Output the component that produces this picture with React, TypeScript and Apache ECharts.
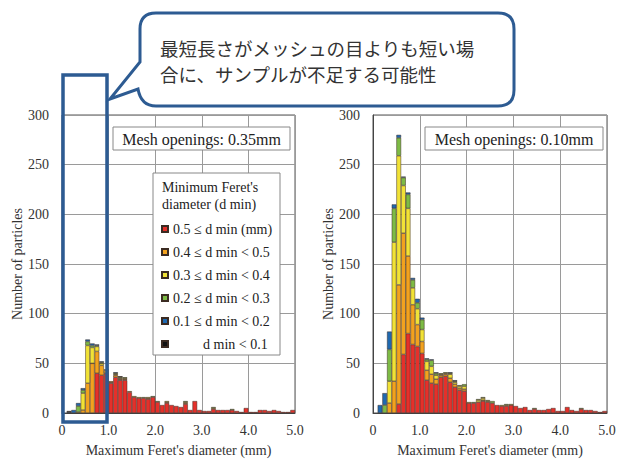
import React, { useEffect, useRef } from 'react';
import * as echarts from 'echarts';

const SERIF = '"Liberation Serif", "DejaVu Serif", serif';
const JP = '"Noto Sans CJK JP", sans-serif';

// bin centres of the 0.1 mm histogram bins (mm)
const binCenters = [
  '0.05', '0.15', '0.25', '0.35', '0.45', '0.55', '0.65', '0.75', '0.85', '0.95',
  '1.05', '1.15', '1.25', '1.35', '1.45', '1.55', '1.65', '1.75', '1.85', '1.95',
  '2.05', '2.15', '2.25', '2.35', '2.45', '2.55', '2.65', '2.75', '2.85', '2.95',
  '3.05', '3.15', '3.25', '3.35', '3.45', '3.55', '3.65', '3.75', '3.85', '3.95',
  '4.05', '4.15', '4.25', '4.35', '4.45', '4.55', '4.65', '4.75', '4.85', '4.95',
];

const classNames = [
  '0.5 ≤ d min (mm)',
  '0.4 ≤ d min < 0.5',
  '0.3 ≤ d min < 0.4',
  '0.2 ≤ d min < 0.3',
  '0.1 ≤ d min < 0.2',
  'd min < 0.1',
];
const classColors = ['#e5302a', '#f2a21e', '#f1e236', '#7dbb45', '#1f69b0', '#111111'];

const xTickLabels = ['0', '1.0', '2.0', '3.0', '4.0', '5.0'];

// Left chart: mesh openings 0.35 mm
const left05 = [0,0,0,0,0,0,0,40,38,40, 30,36,33,33,21,16,15,15,14,16, 11,8,10,8,7,6,9,3,12,3, 2,2,4,3,3,3,3,2,1,5, 1,1,3,3,2,3,2,1,1,3];
const left04 = [0,0,0,0,3,30,50,22,10,3, 1,2,1,1,1,0,0,0,1,0, 0,0,1,0,0,0,1,0,0,0, 0,0,0,0,0,0,0,0,0,0, 0,0,0,0,0,0,0,0,0,0];
const left03 = [0,0,0,1,17,38,16,5,2,1, 1,1,1,1,0,1,1,0,1,0, 0,0,1,0,0,0,1,0,0,0, 0,0,1,0,0,0,0,0,0,0, 0,0,0,0,0,0,0,0,0,0];
const left02 = [0,0,0,6,3,4,2,1,1,0, 0,1,1,1,0,0,0,1,0,1, 1,0,0,0,0,0,1,0,0,0, 0,0,1,0,0,0,1,0,0,0, 0,0,0,0,0,0,0,0,0,0];
const left01 = [0,1,3,3,2,2,2,1,1,0, 0,1,0,0,0,0,0,0,0,0, 0,0,0,0,0,0,0,0,0,0, 0,0,0,0,0,0,0,0,0,0, 0,0,0,0,0,0,0,0,0,0];
const left00 = [0,1,0,0,0,0,0,0,0,0, 0,0,1,0,0,0,0,0,0,0, 0,0,0,0,0,0,0,0,0,0, 0,0,0,0,0,0,0,0,0,0, 0,0,0,0,0,0,0,0,0,0];

// Right chart: mesh openings 0.10 mm
const right05 = [0,0,0,0,0,9,59,80,69,67, 60,33,30,29,36,37,31,26,23,22, 10,10,11,12,11,10,8,7,7,8, 7,5,6,3,4,3,3,4,5,2, 2,6,3,2,4,3,3,2,1,2];
const right04 = [0,0,0,10,32,120,122,78,40,22, 12,10,9,5,2,2,4,3,2,2, 0,0,0,1,0,0,0,0,0,0, 0,0,0,0,0,0,0,0,0,0, 0,0,0,0,0,0,0,0,0,0];
const right03 = [0,0,0,22,140,130,48,48,17,16, 12,9,8,4,1,1,4,2,2,3, 1,0,2,2,1,0,0,1,1,1, 0,0,0,0,0,0,0,0,0,0, 0,0,0,0,0,0,0,0,0,0];
const right02 = [0,0,8,32,34,18,8,14,8,6, 10,2,6,2,1,1,1,1,1,2, 0,1,1,1,1,2,0,0,1,0, 0,0,0,0,1,0,0,0,0,0, 0,0,0,0,1,0,0,0,0,0];
const right01 = [0,8,12,18,4,3,1,2,2,4, 2,1,1,1,0,0,1,1,0,0, 0,0,0,0,0,0,0,0,0,0, 0,0,0,0,0,0,0,0,0,0, 0,0,0,0,0,0,0,0,0,0];
const right00 = [0,0,0,0,0,0,0,0,0,0, 0,0,0,0,0,0,0,0,0,0, 0,0,0,0,0,0,0,0,0,0, 0,0,0,0,0,0,0,0,0,0, 0,0,0,0,0,0,0,0,0,0];

const meshLabels = ['Mesh openings: 0.35mm', 'Mesh openings: 0.10mm'];
const legendTitle = ["Minimum Feret's", 'diameter (d min)'];
const calloutLines = ['最短長さがメッシュの目よりも短い場', '合に、サンプルが不足する可能性'];

const calloutPath =
  'M156 13 L498 13 Q514 13 514 29 L514 90 Q514 106 498 106 L156 106 Q141 106 138 89 L110 99 L140 62 L140 29 Q140 13 156 13 Z';

let registered = false;
function ensureShape() {
  if (registered) return;
  echarts.graphic.registerShape('callout', echarts.graphic.extendPath(calloutPath, {}) as any);
  registered = true;
}

function buildSeries(groups: number[][], k: number) {
  return groups.map((arr, j) => ({
    type: 'bar',
    name: classNames[j],
    xAxisIndex: 2 + k,
    yAxisIndex: k,
    stack: 'hist' + k,
    barWidth: '100%',
    data: arr.map((v) => (v ? v : '-')),
    itemStyle: { color: classColors[j], borderColor: '#3b2b22', borderWidth: 0.5 },
    emphasis: { disabled: true },
  }));
}

function valueXAxis(k: number) {
  return {
    gridIndex: k,
    type: 'value',
    min: 0,
    max: 5,
    interval: 1,
    axisLine: { show: true, onZero: false, lineStyle: { color: '#444', width: 1 } },
    axisTick: { show: false },
    splitLine: { show: true, lineStyle: { color: '#9a9a9a', width: 1 } },
    axisLabel: {
      margin: 10,
      fontSize: 14,
      fontFamily: SERIF,
      color: '#333',
      formatter: (v: number) => xTickLabels[Math.round(v)],
    },
    name: "Maximum Feret's diameter (mm)",
    nameLocation: 'middle',
    nameGap: 30,
    nameTextStyle: { fontSize: 14, fontFamily: SERIF, color: '#333' },
  };
}

function categoryXAxis(k: number) {
  return {
    gridIndex: k,
    type: 'category',
    data: binCenters,
    boundaryGap: true,
    show: false,
  };
}

function valueYAxis(k: number) {
  return {
    gridIndex: k,
    type: 'value',
    min: 0,
    max: 300,
    interval: 50,
    axisLine: { show: true, lineStyle: { color: '#444', width: 1 } },
    axisTick: { show: false },
    splitLine: { show: true, lineStyle: { color: '#9a9a9a', width: 1 } },
    axisLabel: { margin: 13, fontSize: 14, fontFamily: SERIF, color: '#333' },
    name: 'Number of particles',
    nameLocation: 'middle',
    nameGap: 37,
    nameRotate: 90,
    nameTextStyle: { fontSize: 14, fontFamily: SERIF, color: '#333' },
  };
}

export default function App() {
  const ref = useRef<HTMLDivElement>(null);
  useEffect(() => {
    if (!ref.current) return;
    ensureShape();
    const chart = echarts.init(ref.current, undefined, { renderer: 'svg' });
    const meshBox = (x: number, w: number, label: string) => ({
      type: 'group',
      z: 3,
      children: [
        { type: 'rect', shape: { x, y: 127, width: w, height: 23 }, style: { fill: '#fff', stroke: '#888', lineWidth: 1 }, z: 3 },
        { type: 'text', x: x + w / 2, y: 139, z: 4, style: { text: label, fill: '#222', fontSize: 16, fontFamily: SERIF, align: 'center', verticalAlign: 'middle' } },
      ],
    });
    chart.setOption({
      animation: false,
      backgroundColor: '#ffffff',
      grid: [
        { left: 62, top: 115, width: 233, height: 300, show: true, borderColor: '#555', borderWidth: 1, backgroundColor: '#fff' },
        { left: 373, top: 115, width: 234, height: 301, show: true, borderColor: '#555', borderWidth: 1, backgroundColor: '#fff' },
      ],
      xAxis: [valueXAxis(0), valueXAxis(1), categoryXAxis(0), categoryXAxis(1)],
      yAxis: [valueYAxis(0), valueYAxis(1)],
      legend: {
        data: classNames,
        orient: 'vertical',
        left: 161,
        top: 222,
        itemWidth: 6,
        itemHeight: 6,
        itemGap: 9,
        padding: 0,
        icon: 'rect',
        selectedMode: false,
        z: 6,
        textStyle: {
          fontSize: 14,
          fontFamily: SERIF,
          color: '#222',
          rich: { p: { padding: [0, 0, 0, 30], fontSize: 14, fontFamily: SERIF, color: '#222' } },
        },
        formatter: (name: string) => (name === 'd min < 0.1' ? '{p|' + name + '}' : name),
      },
      series: [
        ...buildSeries([left05, left04, left03, left02, left01, left00], 0),
        ...buildSeries([right05, right04, right03, right02, right01, right00], 1),
      ],
      graphic: [
        meshBox(113, 177, meshLabels[0]),
        meshBox(425, 178, meshLabels[1]),
        { type: 'rect', z: 3, shape: { x: 153, y: 173, width: 127, height: 182 }, style: { fill: '#fff', stroke: '#888', lineWidth: 1 } },
        { type: 'text', z: 4, x: 162, y: 187, style: { text: legendTitle[0], fill: '#222', fontSize: 14, fontFamily: SERIF, verticalAlign: 'middle' } },
        { type: 'text', z: 4, x: 162, y: 204, style: { text: legendTitle[1], fill: '#222', fontSize: 14, fontFamily: SERIF, verticalAlign: 'middle' } },
        { type: 'rect', z: 20, shape: { x: 63, y: 75, width: 44, height: 347 }, style: { fill: 'none', stroke: '#2d5b92', lineWidth: 3.5 } },
        { type: 'callout', z: 20, x: 0, y: 0, scaleX: 1, scaleY: 1, style: { fill: '#fff', stroke: '#2d5b92', lineWidth: 3 } },
        { type: 'text', z: 21, x: 160, y: 48, style: { text: calloutLines[0], fill: '#333', fontSize: 18.5, fontFamily: JP, verticalAlign: 'middle' } },
        { type: 'text', z: 21, x: 160, y: 74, style: { text: calloutLines[1], fill: '#333', fontSize: 18.5, fontFamily: JP, verticalAlign: 'middle' } },
      ],
    });
    return () => chart.dispose();
  }, []);
  return (
    <div
      ref={ref}
      style={{ position: 'absolute', left: 0, top: 0, width: 619, height: 462, background: '#fff' }}
    />
  );
}
